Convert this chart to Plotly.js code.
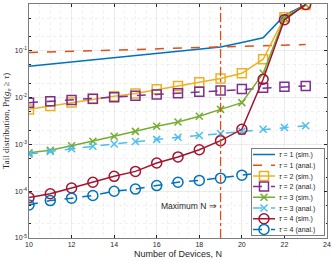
<!DOCTYPE html>
<html>
<head>
<meta charset="utf-8">
<script src="https://cdn.plot.ly/plotly-3.0.1.min.js"></script>
<style>html,body{margin:0;padding:0;background:#fff}#chart{width:332px;height:263px}</style>
</head>
<body>
<div id="chart"></div>
<script>
var N = [10, 11, 12, 13, 14, 15, 16, 17, 18, 19, 20, 21, 22, 23];
var tau1Sim  = [0.047, 0.052, 0.058, 0.064, 0.071, 0.079, 0.087, 0.097, 0.109, 0.121, 0.15, 0.19, 0.57, 0.97];
var tau1Anal = [0.092, 0.095, 0.098, 0.101, 0.104, 0.107, 0.110, 0.113, 0.117, 0.120, 0.124, 0.128, 0.132, 0.136];
var tau2Sim  = [0.0056, 0.0066, 0.0079, 0.0093, 0.0107, 0.0123, 0.0150, 0.0177, 0.0213, 0.0255, 0.033, 0.066, 0.52, 0.95];
var tau2Anal = [0.0078, 0.0084, 0.0089, 0.0095, 0.0102, 0.0110, 0.0117, 0.0124, 0.0133, 0.0142, 0.0152, 0.0162, 0.0170, 0.0178];
var tau3Sim  = [0.00066, 0.00075, 0.00094, 0.00117, 0.00149, 0.0019, 0.00245, 0.0030, 0.0040, 0.0056, 0.0078, 0.033, 0.50, 0.97];
var tau3Anal = [0.00062, 0.00071, 0.00081, 0.00091, 0.00102, 0.00115, 0.00128, 0.00142, 0.00155, 0.0017, 0.0019, 0.0021, 0.0023, 0.0025];
var tau4Sim  = [7.3e-5, 8.8e-5, 1.17e-4, 1.55e-4, 2.08e-4, 2.65e-4, 4.0e-4, 5.4e-4, 7.7e-4, 1.2e-3, 2.1e-3, 0.0246, 0.46, 0.98];
var tau4Anal = [5.1e-5, 6.3e-5, 7.1e-5, 8.1e-5, 1.0e-4, 1.11e-4, 1.32e-4, 1.55e-4, 1.7e-4, 1.9e-4, 2.2e-4, 2.5e-4, 2.8e-4, 3.1e-4];
var names = ['<i>τ</i> = 1 (sim.)', '<i>τ</i> = 1 (anal.)', '<i>τ</i> = 2 (sim.)', '<i>τ</i> = 2 (anal.)',
             '<i>τ</i> = 3 (sim.)', '<i>τ</i> = 3 (anal.)', '<i>τ</i> = 4 (sim.)', '<i>τ</i> = 4 (anal.)'];
var maxN = 19;
var xTicks = [10, 12, 14, 16, 18, 20, 22, 24];
var yTickVals = [1e-5, 1e-4, 1e-3, 1e-2, 1e-1, 1];
var yTickText = ['10<sup>-5</sup>', '10<sup>-4</sup>', '10<sup>-3</sup>', '10<sup>-2</sup>', '10<sup>-1</sup>', '10<sup>0</sup>'];

var series = [tau1Sim, tau1Anal, tau2Sim, tau2Anal, tau3Sim, tau3Anal, tau4Sim, tau4Anal];
var colors = ['#0072BD', '#D95319', '#EDB120', '#7E2F8E', '#77AC30', '#4DBEEE', '#A2142F', '#0072BD'];
var dashes = ['solid', 'dash', 'solid', 'dash', 'solid', 'dash', 'solid', 'dash'];
var symbols = [null, null, 'square-open', 'square-open', 'x-thin-open', 'x-thin-open', 'circle-open', 'circle-open'];
var sizes = [0, 0, 9, 9, 7, 7, 10, 10];

var traces = series.map(function (s, i) {
  var t = {
    x: N, y: s, name: names[i], type: 'scatter',
    mode: symbols[i] ? 'lines+markers' : 'lines',
    line: {color: colors[i], width: 1.5, dash: dashes[i]}
  };
  if (symbols[i]) {
    t.marker = {symbol: symbols[i], size: sizes[i], color: colors[i], line: {color: colors[i], width: 1.5}};
  }
  return t;
});

var layout = {
  width: 332, height: 263,
  margin: {l: 29, r: 5, t: 4, b: 25, autoexpand: false},
  paper_bgcolor: '#fff', plot_bgcolor: '#fff',
  font: {family: 'Liberation Sans, Arial, sans-serif', size: 7, color: '#262626'},
  showlegend: true,
  legend: {
    x: 0.748, y: 0.385, xanchor: 'left', yanchor: 'top',
    bgcolor: '#fff', bordercolor: '#262626', borderwidth: 0.6,
    font: {family: 'Liberation Sans, Arial, sans-serif', size: 7, color: '#262626'},
    tracegroupgap: 0, itemwidth: 30
  },
  xaxis: {
    range: [10, 24], tickvals: xTicks, ticktext: xTicks.map(String),
    ticks: 'inside', ticklen: 3, tickcolor: '#262626',
    showline: true, mirror: 'ticks', linecolor: '#262626', linewidth: 0.6,
    showgrid: true, gridcolor: '#e3e3e3', gridwidth: 0.6, zeroline: false,
    minor: {dtick: 0.5, showgrid: true, gridcolor: '#e6e6e6', griddash: 'dot', gridwidth: 0.6},
    title: {text: 'Number of Devices, N', font: {size: 9, color: '#262626'}, standoff: 3}
  },
  yaxis: {
    type: 'log', range: [-5, 0], tickvals: yTickVals, ticktext: yTickText,
    ticks: 'inside', ticklen: 3, tickcolor: '#262626',
    showline: true, mirror: 'ticks', linecolor: '#262626', linewidth: 0.6,
    showgrid: true, gridcolor: '#e3e3e3', gridwidth: 0.6, zeroline: false,
    minor: {ticks: 'inside', ticklen: 1.5, showgrid: true, gridcolor: '#e6e6e6', griddash: 'dot', gridwidth: 0.6},
    title: {text: 'Tail distribution, Pr(<i>g<sub>n</sub></i> ≥ <i>τ</i>)', font: {family: 'Liberation Serif, DejaVu Serif, serif', size: 9, color: '#262626'}, standoff: 3}
  },
  shapes: [{
    type: 'line', xref: 'x', yref: 'paper', x0: maxN, x1: maxN, y0: 0, y1: 1,
    line: {color: '#D95319', width: 1.3, dash: 'dashdot'}
  }],
  annotations: [{
    x: maxN, y: -4.31, xref: 'x', yref: 'y', xanchor: 'right', yanchor: 'middle',
    text: 'Maximum N ⇒', showarrow: false, xshift: -2,
    font: {family: 'Liberation Sans, Arial, sans-serif', size: 8.5, color: '#262626'}
  }]
};

var gd = document.getElementById('chart');
Plotly.newPlot(gd, traces, layout, {displayModeBar: false, staticPlot: true}).then(function () {
  // compact the legend rows to match the reference's tight MATLAB-style legend
  var leg = gd.querySelector('.legend');
  if (!leg) return;
  var rowH = 10.7, top = 6.5, w = 73;
  var items = leg.querySelectorAll('.traces');
  items.forEach(function (it, i) {
    it.setAttribute('transform', 'translate(0,' + (top + i * rowH) + ')');
    it.querySelectorAll('.legendlines path').forEach(function (p) { p.setAttribute('d', 'M2,0h22'); });
    it.querySelectorAll('.legendpoints path').forEach(function (p) { p.setAttribute('transform', 'translate(13,0)'); });
    var tx = it.querySelector('.legendtext');
    if (tx) {
      tx.setAttribute('x', 28);
      tx.querySelectorAll('tspan[x]').forEach(function (t) { t.setAttribute('x', 28); });
    }
  });
  var bg = leg.querySelector('rect.bg');
  if (bg) { bg.setAttribute('width', w); bg.setAttribute('height', items.length * rowH + 2); }
  leg.setAttribute('transform', 'translate(251,148)');
});
</script>
</body>
</html>
